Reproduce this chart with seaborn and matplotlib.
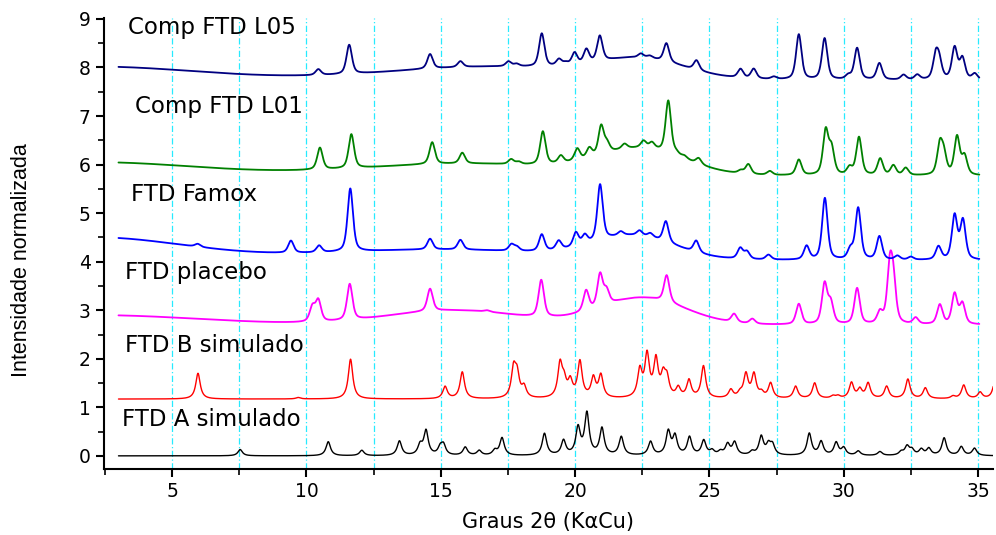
import numpy as np
import pandas as pd
import matplotlib
matplotlib.use("Agg")
import matplotlib.pyplot as plt
from matplotlib.ticker import MultipleLocator
import seaborn as sns

# ---------------- data: peak lists (2theta position, height) ----------------
# FTD A simulado (calculated pattern, baseline 0)
a_sim_base = 0.0
a_sim_pos = [7.53, 10.81, 12.06, 13.46, 14.23, 14.45, 14.98, 15.10, 15.91, 16.43,
             17.01, 17.28, 18.86, 19.57, 20.11, 20.44, 21.00, 21.72, 22.81, 23.47,
             23.72, 24.26, 24.79, 25.10, 25.41, 25.68, 25.94, 26.59, 26.93, 27.20,
             27.35, 28.72, 29.16, 29.72, 30.00, 30.54, 31.35, 32.14, 32.36, 32.54,
             32.89, 33.17, 33.74, 34.38, 34.87]
a_sim_hgt = [0.13, 0.29, 0.11, 0.30, 0.20, 0.50, 0.15, 0.20, 0.17, 0.10,
             0.10, 0.36, 0.45, 0.30, 0.55, 0.85, 0.55, 0.38, 0.28, 0.48,
             0.38, 0.37, 0.30, 0.09, 0.07, 0.22, 0.26, 0.07, 0.38, 0.20,
             0.20, 0.45, 0.28, 0.26, 0.15, 0.09, 0.08, 0.07, 0.18, 0.11,
             0.12, 0.14, 0.36, 0.18, 0.15]

# FTD B simulado (calculated pattern)
b_sim_base = 1.17
b_sim_pos = [5.96, 9.69, 11.64, 15.16, 15.80, 17.71, 17.84, 18.10, 19.44, 19.59,
             19.82, 20.18, 20.68, 20.96, 22.41, 22.68, 23.01, 23.28, 23.42, 23.84,
             24.24, 24.78, 25.80, 26.14, 26.36, 26.66, 26.94, 27.28, 28.21, 28.92,
             29.60, 29.79, 30.29, 30.60, 30.91, 31.60, 32.39, 33.04, 34.07, 34.47,
             35.08, 35.64]
b_sim_hgt = [0.53, 0.03, 0.82, 0.25, 0.55, 0.58, 0.45, 0.22, 0.68, 0.30,
             0.32, 0.74, 0.40, 0.46, 0.55, 0.85, 0.75, 0.40, 0.36, 0.20,
             0.36, 0.66, 0.17, 0.09, 0.48, 0.48, 0.10, 0.31, 0.25, 0.32,
             0.05, 0.05, 0.32, 0.18, 0.31, 0.25, 0.40, 0.22, 0.05, 0.28,
             0.13, 0.38]

# FTD placebo (measured)
plac_base = 2.70
plac_halo_pos = [2.0, 15.5, 22.5]
plac_halo_hgt = [0.20, 0.30, 0.55]
plac_halo_sig = [4.0, 2.5, 1.6]
plac_pos = [10.22, 10.44, 11.61, 14.60, 16.72, 18.74, 20.41, 20.93, 21.17, 23.41,
            25.92, 26.60, 28.33, 29.29, 29.52, 30.50, 31.35, 31.72, 31.85, 32.68,
            33.58, 34.13, 34.42]
plac_hgt = [0.30, 0.43, 0.74, 0.46, 0.03, 0.76, 0.42, 0.66, 0.28, 0.55,
            0.17, 0.10, 0.42, 0.82, 0.42, 0.74, 0.23, 1.12, 0.75, 0.13,
            0.40, 0.62, 0.42]

# FTD Famox (measured)
famox_base = 4.03
famox_halo_pos = [2.0, 15.0, 22.2]
famox_halo_hgt = [0.47, 0.22, 0.45]
famox_halo_sig = [3.5, 4.5, 1.5]
famox_pos = [5.95, 9.42, 10.47, 11.63, 14.60, 15.73, 17.63, 17.83, 18.76, 19.39,
             20.03, 20.36, 20.93, 21.70, 22.40, 22.80, 23.38, 24.51, 26.15, 26.40,
             27.20, 28.62, 29.30, 30.25, 30.54, 31.33, 32.00, 32.50, 33.53, 34.13,
             34.44]
famox_hgt = [0.06, 0.25, 0.14, 1.30, 0.22, 0.20, 0.13, 0.08, 0.34, 0.18,
             0.28, 0.18, 1.15, 0.08, 0.10, 0.08, 0.43, 0.24, 0.22, 0.15,
             0.10, 0.28, 1.27, 0.20, 1.06, 0.48, 0.08, 0.06, 0.27, 0.90,
             0.80]

# Comp FTD L01 (measured)
l01_base = 5.77
l01_halo_pos = [2.0, 16.0, 22.5]
l01_halo_hgt = [0.28, 0.25, 0.50]
l01_halo_sig = [4.0, 4.0, 1.6]
l01_pos = [10.50, 11.67, 14.68, 15.80, 17.62, 17.90, 18.80, 19.47, 20.08, 20.53,
           20.97, 21.19, 21.84, 22.55, 22.86, 23.47, 23.77, 24.07, 24.60, 26.17,
           26.45, 27.25, 28.33, 29.33, 29.55, 30.22, 30.57, 31.36, 31.85, 32.31,
           33.58, 33.73, 34.22, 34.50]
l01_hgt = [0.45, 0.70, 0.45, 0.22, 0.10, 0.05, 0.68, 0.15, 0.24, 0.19,
           0.58, 0.18, 0.10, 0.14, 0.12, 1.08, 0.05, 0.05, 0.12, 0.06,
           0.20, 0.08, 0.32, 0.90, 0.52, 0.15, 0.78, 0.34, 0.20, 0.15,
           0.60, 0.38, 0.78, 0.38]

# Comp FTD L05 (measured)
l05_base = 7.74
l05_halo_pos = [2.0, 17.0, 22.5]
l05_halo_hgt = [0.28, 0.28, 0.35]
l05_halo_sig = [4.0, 4.0, 1.6]
l05_pos = [10.44, 11.59, 14.60, 15.73, 17.52, 17.82, 18.76, 19.40, 19.65, 19.98,
           20.42, 20.92, 22.45, 22.78, 23.40, 24.52, 26.16, 26.65, 27.40, 28.33,
           29.29, 30.17, 30.50, 31.33, 32.23, 32.74, 33.43, 33.56, 34.13, 34.42,
           34.88]
l05_hgt = [0.12, 0.60, 0.30, 0.12, 0.10, 0.05, 0.68, 0.13, 0.05, 0.24,
           0.28, 0.52, 0.08, 0.05, 0.38, 0.20, 0.18, 0.20, 0.05, 0.93,
           0.85, 0.08, 0.65, 0.34, 0.10, 0.10, 0.48, 0.33, 0.65, 0.43,
           0.12]

names = ["FTD A simulado", "FTD B simulado", "FTD placebo",
         "FTD Famox", "Comp FTD L01", "Comp FTD L05"]
colors = ["#000000", "#FF0000", "#FF00FF", "#0000FF", "#008000", "#000080"]


# ---------------- profile helpers ----------------
def lorentz(x, c, h, w):
    return h / (1.0 + ((x - c) / (w / 2.0)) ** 2)


def pvoigt(x, c, h, w, eta=0.55):
    g = h * np.exp(-4.0 * np.log(2.0) * ((x - c) / w) ** 2)
    return eta * lorentz(x, c, h, w) + (1 - eta) * g


def calc_pattern(x, base, pos, hgt, w):
    y = np.full_like(x, base)
    for c, h in zip(pos, hgt):
        y += lorentz(x, c, h, w)
    return y


def meas_pattern(x, base, hpos, hhgt, hsig, pos, hgt, w):
    y = np.full_like(x, base)
    for c, h, s in zip(hpos, hhgt, hsig):
        y += h * np.exp(-((x - c) ** 2) / (2 * s * s))
    for c, h in zip(pos, hgt):
        y += pvoigt(x, c, h, w)
    return y


x_calc = np.linspace(3.0, 35.6, 4000)
x_meas = np.linspace(3.0, 35.05, 4000)

curves = {
    "FTD A simulado": (x_calc, calc_pattern(x_calc, a_sim_base, a_sim_pos, a_sim_hgt, 0.20)),
    "FTD B simulado": (x_calc, calc_pattern(x_calc, b_sim_base, b_sim_pos, b_sim_hgt, 0.20)),
    "FTD placebo": (x_meas, meas_pattern(x_meas, plac_base, plac_halo_pos, plac_halo_hgt,
                                         plac_halo_sig, plac_pos, plac_hgt, 0.24)),
    "FTD Famox": (x_meas, meas_pattern(x_meas, famox_base, famox_halo_pos, famox_halo_hgt,
                                       famox_halo_sig, famox_pos, famox_hgt, 0.24)),
    "Comp FTD L01": (x_meas, meas_pattern(x_meas, l01_base, l01_halo_pos, l01_halo_hgt,
                                          l01_halo_sig, l01_pos, l01_hgt, 0.24)),
    "Comp FTD L05": (x_meas, meas_pattern(x_meas, l05_base, l05_halo_pos, l05_halo_hgt,
                                          l05_halo_sig, l05_pos, l05_hgt, 0.24)),
}

frames = []
for n in names:
    xx, yy = curves[n]
    frames.append(pd.DataFrame({"2theta": xx, "I": yy, "amostra": n}))
df = pd.concat(frames, ignore_index=True)

# ---------------- figure ----------------
sns.set_theme(style="white")
plt.rcParams["font.family"] = ["DejaVu Sans"]
plt.rcParams["axes.labelcolor"] = "black"
plt.rcParams["text.color"] = "black"

fig = plt.figure(figsize=(9.96, 5.35), dpi=100)
ax = fig.add_axes([0.1044, 0.1234, 0.8926, 0.843])

# cyan guide lines every 2.5 degrees
for gx in np.arange(5.0, 35.01, 2.5):
    ax.axvline(gx, color="#00E8FF", lw=0.9, ls=(0, (5, 2, 1, 2)), alpha=0.85, zorder=0)

for n, col in zip(names, colors):
    lw = 1.0 if "simulado" in n else 1.3
    sns.lineplot(data=df[df["amostra"] == n], x="2theta", y="I", color=col,
                 linewidth=lw, estimator=None, sort=False, legend=False, ax=ax)

ax.set_xlim(2.46, 35.56)
ax.set_ylim(-0.27, 9.02)

ax.xaxis.set_major_locator(MultipleLocator(5))
ax.xaxis.set_minor_locator(MultipleLocator(2.5))
ax.yaxis.set_major_locator(MultipleLocator(1))
ax.yaxis.set_minor_locator(MultipleLocator(0.5))
ax.tick_params(which="major", direction="out", length=6, width=1.5,
               labelsize=13.5, colors="black", bottom=True, left=True)
ax.tick_params(which="minor", direction="out", length=4, width=1.2,
               colors="black", bottom=True, left=True)

for s in ["top", "right"]:
    ax.spines[s].set_visible(False)
for s in ["left", "bottom"]:
    ax.spines[s].set_color("black")
    ax.spines[s].set_linewidth(1.5)

ax.set_xlabel("Graus 2\u03b8 (K\u03b1Cu)", fontsize=15, labelpad=8, color="black")
ax.set_ylabel("Intensidade normalizada", fontsize=15.5, color="black",
              family=["Liberation Sans", "DejaVu Sans"])
ax.yaxis.set_label_coords(-0.081, 0.463)

label_pos = {
    "Comp FTD L05": (3.35, 8.82),
    "Comp FTD L01": (3.62, 7.20),
    "FTD Famox": (3.45, 5.39),
    "FTD placebo": (3.24, 3.78),
    "FTD B simulado": (3.24, 2.28),
    "FTD A simulado": (3.12, 0.74),
}
for n in names:
    lx, ly = label_pos[n]
    ax.text(lx, ly, n, fontsize=16.5, color="black", ha="left", va="center")

fig.savefig("out.png", dpi=100)
